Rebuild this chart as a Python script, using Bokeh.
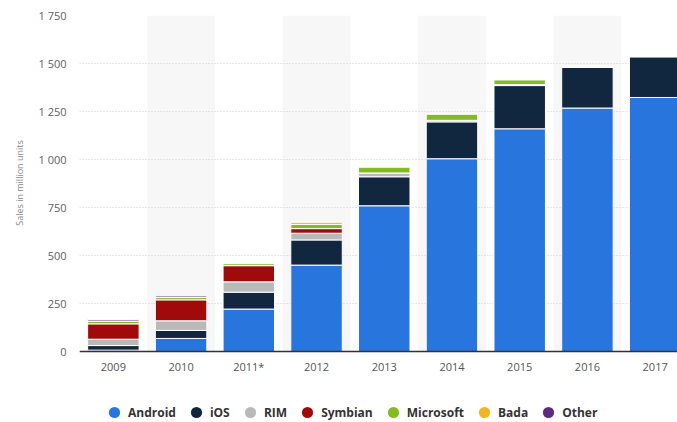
from bokeh.plotting import figure
from bokeh.models import Range1d, FixedTicker, Legend, LegendItem, ColumnDataSource, Span
from bokeh.core.properties import value
from bokeh.embed import file_html
from bokeh.resources import INLINE

years = ["2009", "2010", "2011*", "2012", "2013", "2014", "2015", "2016", "2017"]
android = [7, 68, 221, 450, 759, 1004, 1160, 1268, 1323]
ios = [24, 42, 88, 131, 151, 192, 225, 213, 213]
rim = [33, 50, 54, 35, 20, 8, 5, 0, 0]
symbian = [80, 109, 84, 24, 0, 0, 0, 0, 0]
microsoft = [15, 12, 11, 22, 32, 34, 26, 0, 0]
bada = [0, 3, 0, 12, 0, 0, 0, 0, 0]
other = [8, 8, 0, 3, 0, 0, 0, 0, 0]

series_names = ["Android", "iOS", "RIM", "Symbian", "Microsoft", "Bada", "Other"]
colors = ["#2876dd", "#11263f", "#b9b9b9", "#a10a0a", "#82bb24", "#f1b423", "#5c2a7f"]

ytick_vals = [0, 250, 500, 750, 1000, 1250, 1500, 1750]
ytick_labels = ["0", "250", "500", "750", "1 000", "1 250", "1 500", "1 750"]

FONT = "Open Sans"

# layout (pixels)
W, H = 677, 422
TOP, LEFT = 15, 79
AXIS_Y = 351            # screen row of value 0
ymax = ytick_vals[-1]
ymin = -ymax * (H - AXIS_Y) / (AXIS_Y - TOP)   # extra room below 0 for labels + legend

xs = list(range(len(years)))
src = ColumnDataSource(dict(x=xs, Android=android, iOS=ios, RIM=rim, Symbian=symbian,
                            Microsoft=microsoft, Bada=bada, Other=other))

p = figure(width=W, height=H, output_backend="svg", toolbar_location=None,
           x_range=Range1d(-0.5, 8.33), y_range=Range1d(ymin, ymax),
           min_border_left=LEFT, min_border_right=0, min_border_top=TOP, min_border_bottom=0)
p.outline_line_color = None
p.background_fill_color = "white"
p.xaxis.visible = False

# alternating shaded bands
band_x = xs[1::2]
band_top = [ymax] * len(band_x)
bands = p.vbar(x=band_x, top=band_top, bottom=0, width=1.0, fill_color="#f7f7f7", line_color=None)
bands.level = "image"

p.vbar_stack(series_names, x="x", width=0.76, color=colors, line_color="white",
             line_width=1, source=src)

# baseline (x axis line)
p.add_layout(Span(location=0, dimension="width", line_color="#333333", line_width=1.5))

# category labels under the baseline
p.text(x=xs, y=[0] * len(xs), text=years, y_offset=15, text_align="center",
       text_baseline="middle", text_font=value(FONT), text_font_size="11px",
       text_color="#555555")

# y axis
p.yaxis.ticker = FixedTicker(ticks=ytick_vals)
p.yaxis.major_label_overrides = {v: l for v, l in zip(ytick_vals, ytick_labels)}
p.yaxis.axis_line_color = None
p.yaxis.major_tick_line_color = None
p.yaxis.minor_tick_line_color = None
p.yaxis.major_tick_out = 0
p.yaxis.major_tick_in = 0
p.yaxis.major_label_text_font = FONT
p.yaxis.major_label_text_font_size = "11px"
p.yaxis.major_label_text_color = "#606060"
p.yaxis.major_label_standoff = 13
# leading em spaces keep the title centred on the 0..1750 part of the axis
p.yaxis.axis_label = "\u2003" * 8 + "Sales in million units"
p.yaxis.axis_label_text_font = FONT
p.yaxis.axis_label_text_font_size = "9px"
p.yaxis.axis_label_text_font_style = "normal"
p.yaxis.axis_label_text_color = "#888888"
p.yaxis.axis_label_standoff = 9

p.xgrid.grid_line_color = None
p.ygrid.ticker = FixedTicker(ticks=ytick_vals)
p.ygrid.grid_line_color = "#cfcfcf"
p.ygrid.grid_line_dash = "1 2"
p.ygrid.grid_line_width = 1

# legend with circle markers (size-0 proxies, so nothing shows in the plot)
items = []
for name, c in zip(series_names, colors):
    r = p.scatter(x=[xs[0]], y=[0], marker="circle", size=0, fill_color=c, line_color=None)
    items.append(LegendItem(label=name, renderers=[r]))

legend = Legend(items=items, orientation="horizontal", location=(21, -4),
                glyph_width=28, glyph_height=28, label_standoff=-4, spacing=6,
                padding=0, margin=0, border_line_color=None, background_fill_alpha=0,
                label_text_font=FONT, label_text_font_size="12px",
                label_text_font_style="bold", label_text_color="#333333")
p.add_layout(legend, "center")

open("out.html", "w").write(file_html(p, INLINE))
